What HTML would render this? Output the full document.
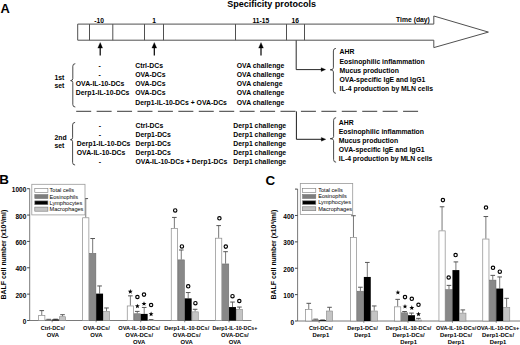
<!DOCTYPE html>
<html><head><meta charset="utf-8"><style>
html,body{margin:0;padding:0;background:#fff;}
body{width:520px;height:345px;overflow:hidden;}
svg{display:block;font-family:"Liberation Sans", sans-serif;}
</style></head><body>
<svg width="520" height="345" viewBox="0 0 520 345">
<rect width="520" height="345" fill="#fff"/>
<text x="0.5" y="12.9" font-size="13.2" font-weight="bold" text-anchor="start" fill="#000" textLength="9.3" lengthAdjust="spacingAndGlyphs">A</text>
<text x="227.2" y="6.6" font-size="8.3" font-weight="bold" text-anchor="start" fill="#000" textLength="88.8" lengthAdjust="spacingAndGlyphs">Specificity protocols</text>
<path d="M77.7,24.1 L433.8,24.1 L433.8,16.0 L488.4,32.1 L433.8,47.6 L433.8,40.2 L77.7,40.2 Z" stroke="#505050" stroke-width="1.0" fill="none"/>
<line x1="89.5" y1="24.1" x2="89.5" y2="40.2" stroke="#505050" stroke-width="1.0"/>
<line x1="112.8" y1="24.1" x2="112.8" y2="40.2" stroke="#505050" stroke-width="1.0"/>
<line x1="144.5" y1="24.1" x2="144.5" y2="40.2" stroke="#505050" stroke-width="1.0"/>
<line x1="163.5" y1="24.1" x2="163.5" y2="40.2" stroke="#505050" stroke-width="1.0"/>
<line x1="235.5" y1="24.1" x2="235.5" y2="40.2" stroke="#505050" stroke-width="1.0"/>
<line x1="286.5" y1="24.1" x2="286.5" y2="40.2" stroke="#505050" stroke-width="1.0"/>
<line x1="304.5" y1="24.1" x2="304.5" y2="40.2" stroke="#505050" stroke-width="1.0"/>
<text x="99.2" y="23.4" font-size="6.7" font-weight="bold" text-anchor="middle" fill="#000">-10</text>
<text x="154.2" y="23.4" font-size="6.7" font-weight="bold" text-anchor="middle" fill="#000">1</text>
<text x="260.8" y="23.4" font-size="6.7" font-weight="bold" text-anchor="middle" fill="#000">11-15</text>
<text x="295.2" y="23.4" font-size="6.7" font-weight="bold" text-anchor="middle" fill="#000">16</text>
<text x="396.1" y="21.8" font-size="6.7" font-weight="bold" text-anchor="start" fill="#000" textLength="33.7" lengthAdjust="spacingAndGlyphs">Time (day)</text>
<line x1="100.2" y1="45.5" x2="100.2" y2="55.6" stroke="#000" stroke-width="1.2"/>
<path d="M97.8,48.1 L100.2,42.5 L102.60000000000001,48.1 Z" stroke="#000" stroke-width="0.3" fill="#000"/>
<line x1="154.3" y1="45.5" x2="154.3" y2="55.6" stroke="#000" stroke-width="1.2"/>
<path d="M151.9,48.1 L154.3,42.5 L156.70000000000002,48.1 Z" stroke="#000" stroke-width="0.3" fill="#000"/>
<line x1="261.0" y1="45.5" x2="261.0" y2="55.6" stroke="#000" stroke-width="1.2"/>
<path d="M258.6,48.1 L261.0,42.5 L263.4,48.1 Z" stroke="#000" stroke-width="0.3" fill="#000"/>
<path d="M296.2,40.5 L296.2,69.6 L322,69.6" stroke="#111" stroke-width="0.9" fill="none"/>
<path d="M321.1,67.69999999999999 L325.6,69.6 L321.1,71.5 Z" stroke="#000" stroke-width="0.3" fill="#000"/>
<path d="M296.4,111.4 L296.4,139.3 L322,139.3" stroke="#111" stroke-width="0.95" fill="none"/>
<path d="M321.3,137.4 L325.8,139.3 L321.3,141.20000000000002 Z" stroke="#000" stroke-width="0.3" fill="#000"/>
<path d="M75.3,63.7 Q72.8,63.7 72.8,66.2 L72.8,78.6 Q72.8,80.6 70.6,80.6 Q72.8,80.6 72.8,82.6 L72.8,104.5 Q72.8,107 75.3,107" stroke="#2a2a2a" stroke-width="0.85" fill="none"/>
<path d="M75.1,122.4 Q72.6,122.4 72.6,124.9 L72.6,137.7 Q72.6,139.7 70.39999999999999,139.7 Q72.6,139.7 72.6,141.7 L72.6,162.5 Q72.6,165.0 75.1,165.0" stroke="#2a2a2a" stroke-width="0.85" fill="none"/>
<path d="M335.9,48.4 Q333.4,48.4 333.4,50.9 L333.4,67.8 Q333.4,69.8 330.2,69.8 Q333.4,69.8 333.4,71.8 L333.4,90.8 Q333.4,93.3 335.9,93.3" stroke="#2a2a2a" stroke-width="0.85" fill="none"/>
<path d="M336.1,117.7 Q333.6,117.7 333.6,120.2 L333.6,136.7 Q333.6,138.7 330.20000000000005,138.7 Q333.6,138.7 333.6,140.7 L333.6,159.7 Q333.6,162.2 336.1,162.2" stroke="#2a2a2a" stroke-width="0.85" fill="none"/>
<text x="54.5" y="79.8" font-size="6.85" font-weight="bold" text-anchor="start" fill="#000">1st</text>
<text x="54.5" y="88.1" font-size="6.85" font-weight="bold" text-anchor="start" fill="#000">set</text>
<text x="54.5" y="139.6" font-size="6.85" font-weight="bold" text-anchor="start" fill="#000">2nd</text>
<text x="54.5" y="147.8" font-size="6.85" font-weight="bold" text-anchor="start" fill="#000">set</text>
<text x="99.6" y="68.0" font-size="6.85" font-weight="bold" text-anchor="middle" fill="#000">-</text>
<text x="135.2" y="68.0" font-size="6.85" font-weight="bold" text-anchor="start" fill="#000">Ctrl-DCs</text>
<text x="236.8" y="68.0" font-size="6.85" font-weight="bold" text-anchor="start" fill="#000">OVA challenge</text>
<text x="99.6" y="77.0" font-size="6.85" font-weight="bold" text-anchor="middle" fill="#000">-</text>
<text x="135.2" y="77.0" font-size="6.85" font-weight="bold" text-anchor="start" fill="#000">OVA-DCs</text>
<text x="236.8" y="77.0" font-size="6.85" font-weight="bold" text-anchor="start" fill="#000">OVA challenge</text>
<text x="75.8" y="86.0" font-size="6.85" font-weight="bold" text-anchor="start" fill="#000">OVA-IL-10-DCs</text>
<text x="135.2" y="86.0" font-size="6.85" font-weight="bold" text-anchor="start" fill="#000">OVA-DCs</text>
<text x="236.8" y="86.0" font-size="6.85" font-weight="bold" text-anchor="start" fill="#000">OVA chalenge</text>
<text x="75.8" y="95.0" font-size="6.85" font-weight="bold" text-anchor="start" fill="#000">Derp1-IL-10-DCs</text>
<text x="135.2" y="95.0" font-size="6.85" font-weight="bold" text-anchor="start" fill="#000">OVA-DCs</text>
<text x="236.8" y="95.0" font-size="6.85" font-weight="bold" text-anchor="start" fill="#000">OVA challenge</text>
<text x="135.2" y="105.0" font-size="6.85" font-weight="bold" text-anchor="start" fill="#000">Derp1-IL-10-DCs + OVA-DCs</text>
<text x="236.8" y="105.0" font-size="6.85" font-weight="bold" text-anchor="start" fill="#000">OVA challenge</text>
<text x="100.0" y="128.0" font-size="6.85" font-weight="bold" text-anchor="middle" fill="#000">-</text>
<text x="135.5" y="128.0" font-size="6.85" font-weight="bold" text-anchor="start" fill="#000">Ctrl-DCs</text>
<text x="233.3" y="128.0" font-size="6.85" font-weight="bold" text-anchor="start" fill="#000">Derp1 challenge</text>
<text x="100.0" y="137.0" font-size="6.85" font-weight="bold" text-anchor="middle" fill="#000">-</text>
<text x="135.5" y="137.0" font-size="6.85" font-weight="bold" text-anchor="start" fill="#000">Derp1-DCs</text>
<text x="233.3" y="137.0" font-size="6.85" font-weight="bold" text-anchor="start" fill="#000">Derp1 challenge</text>
<text x="76.8" y="146.0" font-size="6.85" font-weight="bold" text-anchor="start" fill="#000">Derp1-IL-10-DCs</text>
<text x="135.5" y="146.0" font-size="6.85" font-weight="bold" text-anchor="start" fill="#000">Derp1-DCs</text>
<text x="233.3" y="146.0" font-size="6.85" font-weight="bold" text-anchor="start" fill="#000">Derp1 challenge</text>
<text x="76.8" y="155.0" font-size="6.85" font-weight="bold" text-anchor="start" fill="#000">OVA-IL-10-DCs</text>
<text x="135.5" y="155.0" font-size="6.85" font-weight="bold" text-anchor="start" fill="#000">Derp1-DCs</text>
<text x="233.3" y="155.0" font-size="6.85" font-weight="bold" text-anchor="start" fill="#000">Derp1 challenge</text>
<text x="100.0" y="164.0" font-size="6.85" font-weight="bold" text-anchor="middle" fill="#000">-</text>
<text x="135.5" y="164.0" font-size="6.85" font-weight="bold" text-anchor="start" fill="#000">OVA-IL-10-DCs + Derp1-DCs</text>
<text x="233.3" y="164.0" font-size="6.85" font-weight="bold" text-anchor="start" fill="#000">Derp1 challenge</text>
<text x="339.5" y="54.3" font-size="6.85" font-weight="bold" text-anchor="start" fill="#000">AHR</text>
<text x="339.5" y="63.699999999999996" font-size="6.85" font-weight="bold" text-anchor="start" fill="#000">Eosinophilic inflammation</text>
<text x="339.5" y="72.9" font-size="6.85" font-weight="bold" text-anchor="start" fill="#000">Mucus production</text>
<text x="339.5" y="82.10000000000001" font-size="6.85" font-weight="bold" text-anchor="start" fill="#000">OVA-specific IgE and IgG1</text>
<text x="339.5" y="90.9" font-size="6.85" font-weight="bold" text-anchor="start" fill="#000">IL-4 production by MLN cells</text>
<text x="338.8" y="125.0" font-size="6.85" font-weight="bold" text-anchor="start" fill="#000">AHR</text>
<text x="338.8" y="134.0" font-size="6.85" font-weight="bold" text-anchor="start" fill="#000">Eosinophilic inflammation</text>
<text x="338.8" y="143.0" font-size="6.85" font-weight="bold" text-anchor="start" fill="#000">Mucus production</text>
<text x="338.8" y="152.0" font-size="6.85" font-weight="bold" text-anchor="start" fill="#000">OVA-specific IgE and IgG1</text>
<text x="338.8" y="161.0" font-size="6.85" font-weight="bold" text-anchor="start" fill="#000">IL-4 production by MLN cells</text>
<line x1="76.2" y1="111.3" x2="418.2" y2="111.3" stroke="#3a3a3a" stroke-width="1.0" stroke-dasharray="15 5.43"/>
<line x1="29.7" y1="188.7" x2="29.7" y2="320.5" stroke="#7a7a7a" stroke-width="1.0"/>
<line x1="29.7" y1="320.5" x2="251.5" y2="320.5" stroke="#7a7a7a" stroke-width="1.0"/>
<line x1="27.099999999999998" y1="320.5" x2="29.7" y2="320.5" stroke="#333" stroke-width="0.9"/>
<text x="26.3" y="324.0" font-size="6.5" font-weight="bold" text-anchor="end" fill="#000">0</text>
<line x1="27.099999999999998" y1="294.14" x2="29.7" y2="294.14" stroke="#333" stroke-width="0.9"/>
<text x="26.3" y="297.64" font-size="6.5" font-weight="bold" text-anchor="end" fill="#000">200</text>
<line x1="27.099999999999998" y1="267.78" x2="29.7" y2="267.78" stroke="#333" stroke-width="0.9"/>
<text x="26.3" y="271.28" font-size="6.5" font-weight="bold" text-anchor="end" fill="#000">400</text>
<line x1="27.099999999999998" y1="241.42000000000002" x2="29.7" y2="241.42000000000002" stroke="#333" stroke-width="0.9"/>
<text x="26.3" y="244.92000000000002" font-size="6.5" font-weight="bold" text-anchor="end" fill="#000">600</text>
<line x1="27.099999999999998" y1="215.06" x2="29.7" y2="215.06" stroke="#333" stroke-width="0.9"/>
<text x="26.3" y="218.56" font-size="6.5" font-weight="bold" text-anchor="end" fill="#000">800</text>
<line x1="27.099999999999998" y1="188.7" x2="29.7" y2="188.7" stroke="#333" stroke-width="0.9"/>
<text x="26.3" y="192.2" font-size="6.5" font-weight="bold" text-anchor="end" fill="#000">1000</text>
<line x1="52.14" y1="320.5" x2="52.14" y2="322.3" stroke="#555" stroke-width="0.7"/>
<line x1="41.76" y1="310.615" x2="41.76" y2="315.228" stroke="#555" stroke-width="0.8"/>
<line x1="39.46" y1="310.615" x2="44.059999999999995" y2="310.615" stroke="#555" stroke-width="1.0"/>
<rect x="38.65" y="315.58" width="6.22" height="4.92" fill="#ffffff" stroke="#8a8a8a" stroke-width="0.7"/>
<line x1="48.68" y1="319.3138" x2="48.68" y2="319.7092" stroke="#555" stroke-width="0.8"/>
<line x1="46.38" y1="319.3138" x2="50.98" y2="319.3138" stroke="#555" stroke-width="1.0"/>
<rect x="45.47" y="319.96" width="6.42" height="0.54" fill="#888888" stroke="#666" stroke-width="0.5"/>
<line x1="55.6" y1="319.182" x2="55.6" y2="319.4456" stroke="#555" stroke-width="0.8"/>
<line x1="53.300000000000004" y1="319.182" x2="57.9" y2="319.182" stroke="#555" stroke-width="1.0"/>
<rect x="52.14" y="319.45" width="6.92" height="1.05" fill="#000000"/>
<line x1="62.519999999999996" y1="314.7008" x2="62.519999999999996" y2="316.4142" stroke="#555" stroke-width="0.8"/>
<line x1="60.22" y1="314.7008" x2="64.82" y2="314.7008" stroke="#555" stroke-width="1.0"/>
<rect x="59.36" y="316.71" width="6.32" height="3.79" fill="#c4c4c4" stroke="#8a8a8a" stroke-width="0.6"/>
<line x1="96.14" y1="320.5" x2="96.14" y2="322.3" stroke="#555" stroke-width="0.7"/>
<line x1="85.75999999999999" y1="198.58499999999998" x2="85.75999999999999" y2="217.4324" stroke="#555" stroke-width="0.8"/>
<line x1="83.46" y1="198.58499999999998" x2="88.05999999999999" y2="198.58499999999998" stroke="#555" stroke-width="1.0"/>
<rect x="82.65" y="217.78" width="6.22" height="102.72" fill="#ffffff" stroke="#8a8a8a" stroke-width="0.7"/>
<line x1="92.67999999999999" y1="238.5204" x2="92.67999999999999" y2="253.01839999999999" stroke="#555" stroke-width="0.8"/>
<line x1="90.38" y1="238.5204" x2="94.97999999999999" y2="238.5204" stroke="#555" stroke-width="1.0"/>
<rect x="89.47" y="253.27" width="6.42" height="67.23" fill="#888888" stroke="#666" stroke-width="0.5"/>
<line x1="99.6" y1="285.9684" x2="99.6" y2="293.6128" stroke="#555" stroke-width="0.8"/>
<line x1="97.3" y1="285.9684" x2="101.89999999999999" y2="285.9684" stroke="#555" stroke-width="1.0"/>
<rect x="96.14" y="293.61" width="6.92" height="26.89" fill="#000000"/>
<line x1="106.52" y1="307.979" x2="106.52" y2="311.0104" stroke="#555" stroke-width="0.8"/>
<line x1="104.22" y1="307.979" x2="108.82" y2="307.979" stroke="#555" stroke-width="1.0"/>
<rect x="103.36" y="311.31" width="6.32" height="9.19" fill="#c4c4c4" stroke="#8a8a8a" stroke-width="0.6"/>
<line x1="140.74" y1="320.5" x2="140.74" y2="322.3" stroke="#555" stroke-width="0.7"/>
<line x1="130.36" y1="295.8534" x2="130.36" y2="305.6066" stroke="#555" stroke-width="0.8"/>
<line x1="128.06" y1="295.8534" x2="132.66000000000003" y2="295.8534" stroke="#555" stroke-width="1.0"/>
<rect x="127.25" y="305.96" width="6.22" height="14.54" fill="#ffffff" stroke="#8a8a8a" stroke-width="0.7"/>
<line x1="137.28" y1="311.4058" x2="137.28" y2="313.5146" stroke="#555" stroke-width="0.8"/>
<line x1="134.98" y1="311.4058" x2="139.58" y2="311.4058" stroke="#555" stroke-width="1.0"/>
<rect x="134.07" y="313.76" width="6.42" height="6.74" fill="#888888" stroke="#666" stroke-width="0.5"/>
<line x1="144.20000000000002" y1="307.4518" x2="144.20000000000002" y2="313.91" stroke="#555" stroke-width="0.8"/>
<line x1="141.9" y1="307.4518" x2="146.50000000000003" y2="307.4518" stroke="#555" stroke-width="1.0"/>
<rect x="140.74" y="313.91" width="6.92" height="6.59" fill="#000000"/>
<line x1="151.12" y1="319.5774" x2="151.12" y2="319.841" stroke="#555" stroke-width="0.8"/>
<line x1="148.82" y1="319.5774" x2="153.42000000000002" y2="319.5774" stroke="#555" stroke-width="1.0"/>
<rect x="147.96" y="320.14" width="6.32" height="0.36" fill="#c4c4c4" stroke="#8a8a8a" stroke-width="0.6"/>
<line x1="184.74" y1="320.5" x2="184.74" y2="322.3" stroke="#555" stroke-width="0.7"/>
<line x1="174.36" y1="217.4324" x2="174.36" y2="228.24" stroke="#555" stroke-width="0.8"/>
<line x1="172.06" y1="217.4324" x2="176.66000000000003" y2="217.4324" stroke="#555" stroke-width="1.0"/>
<rect x="171.25" y="228.59" width="6.22" height="91.91" fill="#ffffff" stroke="#8a8a8a" stroke-width="0.7"/>
<line x1="181.28" y1="249.987" x2="181.28" y2="259.6084" stroke="#555" stroke-width="0.8"/>
<line x1="178.98" y1="249.987" x2="183.58" y2="249.987" stroke="#555" stroke-width="1.0"/>
<rect x="178.07" y="259.86" width="6.42" height="60.64" fill="#888888" stroke="#666" stroke-width="0.5"/>
<line x1="188.20000000000002" y1="292.5584" x2="188.20000000000002" y2="298.3576" stroke="#555" stroke-width="0.8"/>
<line x1="185.9" y1="292.5584" x2="190.50000000000003" y2="292.5584" stroke="#555" stroke-width="1.0"/>
<rect x="184.74" y="298.36" width="6.92" height="22.14" fill="#000000"/>
<line x1="195.12" y1="309.297" x2="195.12" y2="311.5376" stroke="#555" stroke-width="0.8"/>
<line x1="192.82" y1="309.297" x2="197.42000000000002" y2="309.297" stroke="#555" stroke-width="1.0"/>
<rect x="191.96" y="311.84" width="6.32" height="8.66" fill="#c4c4c4" stroke="#8a8a8a" stroke-width="0.6"/>
<line x1="229.04" y1="320.5" x2="229.04" y2="322.3" stroke="#555" stroke-width="0.7"/>
<line x1="218.66" y1="225.60399999999998" x2="218.66" y2="237.8614" stroke="#555" stroke-width="0.8"/>
<line x1="216.35999999999999" y1="225.60399999999998" x2="220.96" y2="225.60399999999998" stroke="#555" stroke-width="1.0"/>
<rect x="215.55" y="238.21" width="6.22" height="82.29" fill="#ffffff" stroke="#8a8a8a" stroke-width="0.7"/>
<line x1="225.57999999999998" y1="251.7004" x2="225.57999999999998" y2="263.6942" stroke="#555" stroke-width="0.8"/>
<line x1="223.27999999999997" y1="251.7004" x2="227.88" y2="251.7004" stroke="#555" stroke-width="1.0"/>
<rect x="222.37" y="263.94" width="6.42" height="56.56" fill="#888888" stroke="#666" stroke-width="0.5"/>
<line x1="232.5" y1="302.048" x2="232.5" y2="307.0564" stroke="#555" stroke-width="0.8"/>
<line x1="230.2" y1="302.048" x2="234.8" y2="302.048" stroke="#555" stroke-width="1.0"/>
<rect x="229.04" y="307.06" width="6.92" height="13.44" fill="#000000"/>
<line x1="239.42" y1="307.0564" x2="239.42" y2="309.03340000000003" stroke="#555" stroke-width="0.8"/>
<line x1="237.11999999999998" y1="307.0564" x2="241.72" y2="307.0564" stroke="#555" stroke-width="1.0"/>
<rect x="236.26" y="309.33" width="6.32" height="11.17" fill="#c4c4c4" stroke="#8a8a8a" stroke-width="0.6"/>
<polygon points="130.30,289.05 130.93,290.73 132.73,290.81 131.32,291.93 131.80,293.66 130.30,292.67 128.80,293.66 129.28,291.93 127.87,290.81 129.67,290.73" fill="#000"/>
<circle cx="137.40" cy="297.00" r="1.7" fill="none" stroke="#000" stroke-width="1.15"/>
<polygon points="137.40,303.65 138.03,305.33 139.83,305.41 138.42,306.53 138.90,308.26 137.40,307.27 135.90,308.26 136.38,306.53 134.97,305.41 136.77,305.33" fill="#000"/>
<circle cx="144.00" cy="294.60" r="1.7" fill="none" stroke="#000" stroke-width="1.15"/>
<polygon points="144.00,301.25 144.63,302.93 146.43,303.01 145.02,304.13 145.50,305.86 144.00,304.87 142.50,305.86 142.98,304.13 141.57,303.01 143.37,302.93" fill="#000"/>
<circle cx="151.10" cy="305.00" r="1.7" fill="none" stroke="#000" stroke-width="1.15"/>
<polygon points="151.10,311.55 151.73,313.23 153.53,313.31 152.12,314.43 152.60,316.16 151.10,315.17 149.60,316.16 150.08,314.43 148.67,313.31 150.47,313.23" fill="#000"/>
<circle cx="175.20" cy="210.40" r="1.7" fill="none" stroke="#000" stroke-width="1.15"/>
<circle cx="181.90" cy="246.40" r="1.7" fill="none" stroke="#000" stroke-width="1.15"/>
<circle cx="188.20" cy="286.30" r="1.7" fill="none" stroke="#000" stroke-width="1.15"/>
<circle cx="195.40" cy="303.20" r="1.7" fill="none" stroke="#000" stroke-width="1.15"/>
<circle cx="219.40" cy="218.30" r="1.7" fill="none" stroke="#000" stroke-width="1.15"/>
<circle cx="225.80" cy="246.60" r="1.7" fill="none" stroke="#000" stroke-width="1.15"/>
<circle cx="232.50" cy="296.20" r="1.7" fill="none" stroke="#000" stroke-width="1.15"/>
<circle cx="239.30" cy="301.00" r="1.7" fill="none" stroke="#000" stroke-width="1.15"/>
<text x="52.8" y="330.4" font-size="5.9" font-weight="bold" text-anchor="middle" fill="#000" textLength="24.0" lengthAdjust="spacingAndGlyphs">Ctrl-DCs/</text>
<text x="52.8" y="337.0" font-size="5.9" font-weight="bold" text-anchor="middle" fill="#000">OVA</text>
<text x="96.4" y="330.4" font-size="5.9" font-weight="bold" text-anchor="middle" fill="#000" textLength="26.8" lengthAdjust="spacingAndGlyphs">OVA-DCs/</text>
<text x="96.4" y="337.0" font-size="5.9" font-weight="bold" text-anchor="middle" fill="#000">OVA</text>
<text x="139.2" y="330.4" font-size="5.9" font-weight="bold" text-anchor="middle" fill="#000" textLength="41.8" lengthAdjust="spacingAndGlyphs">OVA-IL-10-DCs/</text>
<text x="139.2" y="337.0" font-size="5.9" font-weight="bold" text-anchor="middle" fill="#000">OVA-DCs/</text>
<text x="139.2" y="343.59999999999997" font-size="5.9" font-weight="bold" text-anchor="middle" fill="#000">OVA</text>
<text x="186.7" y="330.4" font-size="5.9" font-weight="bold" text-anchor="middle" fill="#000" textLength="45.0" lengthAdjust="spacingAndGlyphs">Derp1-IL-10-DCs/</text>
<text x="186.7" y="337.0" font-size="5.9" font-weight="bold" text-anchor="middle" fill="#000">OVA-DCs/</text>
<text x="186.7" y="343.59999999999997" font-size="5.9" font-weight="bold" text-anchor="middle" fill="#000">OVA</text>
<text x="234.9" y="330.4" font-size="5.9" font-weight="bold" text-anchor="middle" fill="#000" textLength="44.8" lengthAdjust="spacingAndGlyphs">Derp1-IL-10-DCs+</text>
<text x="234.9" y="337.0" font-size="5.9" font-weight="bold" text-anchor="middle" fill="#000">OVA-DCs/</text>
<text x="234.9" y="343.59999999999997" font-size="5.9" font-weight="bold" text-anchor="middle" fill="#000">OVA</text>
<text x="0" y="0" font-size="6.3" font-weight="bold" text-anchor="middle" fill="#000" transform="translate(5.7,254.6) rotate(-90)" textLength="89.6" lengthAdjust="spacingAndGlyphs">BALF cell number (x10<tspan font-size="4" dy="-2.2">4</tspan><tspan dy="2.2">/ml)</tspan></text>
<text x="-0.8" y="183.8" font-size="13.4" font-weight="bold" text-anchor="start" fill="#000">B</text>
<rect x="31.80" y="184.30" width="53.20" height="30.60" fill="#fff" stroke="#999" stroke-width="0.8"/>
<rect x="34.80" y="188.30" width="13.10" height="4.20" fill="#ffffff" stroke="#777" stroke-width="0.6"/>
<text x="49.5" y="192.4" font-size="6.2" font-weight="normal" text-anchor="start" fill="#000" textLength="24.59" lengthAdjust="spacingAndGlyphs">Total cells</text>
<rect x="34.80" y="194.60" width="13.10" height="4.00" fill="#7d7d7d" stroke="#777" stroke-width="0.6"/>
<text x="49.5" y="198.5" font-size="6.2" font-weight="normal" text-anchor="start" fill="#000" textLength="28.64" lengthAdjust="spacingAndGlyphs">Eosinophils</text>
<rect x="34.80" y="200.90" width="13.10" height="3.80" fill="#000000" stroke="#777" stroke-width="0.6"/>
<text x="49.5" y="204.6" font-size="6.2" font-weight="normal" text-anchor="start" fill="#000" textLength="32.78" lengthAdjust="spacingAndGlyphs">Lymphocytes</text>
<rect x="34.80" y="207.10" width="13.10" height="4.10" fill="#c4c4c4" stroke="#777" stroke-width="0.6"/>
<text x="49.5" y="211.1" font-size="6.2" font-weight="normal" text-anchor="start" fill="#000" textLength="33.93" lengthAdjust="spacingAndGlyphs">Macrophages</text>
<line x1="297.6" y1="189.10000000000002" x2="297.6" y2="321.0" stroke="#7a7a7a" stroke-width="1.0"/>
<line x1="297.6" y1="321.0" x2="520" y2="321.0" stroke="#7a7a7a" stroke-width="1.0"/>
<line x1="295.0" y1="321.0" x2="297.6" y2="321.0" stroke="#333" stroke-width="0.9"/>
<text x="294.20000000000005" y="324.5" font-size="6.5" font-weight="bold" text-anchor="end" fill="#000">0</text>
<line x1="295.0" y1="294.62" x2="297.6" y2="294.62" stroke="#333" stroke-width="0.9"/>
<text x="294.20000000000005" y="298.12" font-size="6.5" font-weight="bold" text-anchor="end" fill="#000">100</text>
<line x1="295.0" y1="268.24" x2="297.6" y2="268.24" stroke="#333" stroke-width="0.9"/>
<text x="294.20000000000005" y="271.74" font-size="6.5" font-weight="bold" text-anchor="end" fill="#000">200</text>
<line x1="295.0" y1="241.86" x2="297.6" y2="241.86" stroke="#333" stroke-width="0.9"/>
<text x="294.20000000000005" y="245.36" font-size="6.5" font-weight="bold" text-anchor="end" fill="#000">300</text>
<line x1="295.0" y1="215.48000000000002" x2="297.6" y2="215.48000000000002" stroke="#333" stroke-width="0.9"/>
<text x="294.20000000000005" y="218.98000000000002" font-size="6.5" font-weight="bold" text-anchor="end" fill="#000">400</text>
<line x1="295.0" y1="189.10000000000002" x2="297.6" y2="189.10000000000002" stroke="#333" stroke-width="0.9"/>
<line x1="319.14" y1="321.0" x2="319.14" y2="322.8" stroke="#555" stroke-width="0.7"/>
<line x1="308.76" y1="303.3254" x2="308.76" y2="309.129" stroke="#555" stroke-width="0.8"/>
<line x1="306.46" y1="303.3254" x2="311.06" y2="303.3254" stroke="#555" stroke-width="1.0"/>
<rect x="305.65" y="309.48" width="6.22" height="11.52" fill="#ffffff" stroke="#8a8a8a" stroke-width="0.7"/>
<line x1="315.68" y1="319.1534" x2="315.68" y2="319.681" stroke="#555" stroke-width="0.8"/>
<line x1="313.38" y1="319.1534" x2="317.98" y2="319.1534" stroke="#555" stroke-width="1.0"/>
<rect x="312.47" y="319.93" width="6.42" height="1.07" fill="#888888" stroke="#666" stroke-width="0.5"/>
<line x1="322.59999999999997" y1="319.9448" x2="322.59999999999997" y2="320.2086" stroke="#555" stroke-width="0.8"/>
<line x1="320.29999999999995" y1="319.9448" x2="324.9" y2="319.9448" stroke="#555" stroke-width="1.0"/>
<rect x="319.14" y="320.21" width="6.92" height="0.79" fill="#000000"/>
<line x1="329.52" y1="307.2824" x2="329.52" y2="310.7118" stroke="#555" stroke-width="0.8"/>
<line x1="327.21999999999997" y1="307.2824" x2="331.82" y2="307.2824" stroke="#555" stroke-width="1.0"/>
<rect x="326.36" y="311.01" width="6.32" height="9.99" fill="#c4c4c4" stroke="#8a8a8a" stroke-width="0.6"/>
<line x1="363.84" y1="321.0" x2="363.84" y2="322.8" stroke="#555" stroke-width="0.7"/>
<line x1="353.46" y1="215.74380000000002" x2="353.46" y2="237.1116" stroke="#555" stroke-width="0.8"/>
<line x1="351.15999999999997" y1="215.74380000000002" x2="355.76" y2="215.74380000000002" stroke="#555" stroke-width="1.0"/>
<rect x="350.35" y="237.46" width="6.22" height="83.54" fill="#ffffff" stroke="#8a8a8a" stroke-width="0.7"/>
<line x1="360.38" y1="287.2336" x2="360.38" y2="290.9268" stroke="#555" stroke-width="0.8"/>
<line x1="358.08" y1="287.2336" x2="362.68" y2="287.2336" stroke="#555" stroke-width="1.0"/>
<rect x="357.17" y="291.18" width="6.42" height="29.82" fill="#888888" stroke="#666" stroke-width="0.5"/>
<line x1="367.29999999999995" y1="262.4364" x2="367.29999999999995" y2="276.9454" stroke="#555" stroke-width="0.8"/>
<line x1="364.99999999999994" y1="262.4364" x2="369.59999999999997" y2="262.4364" stroke="#555" stroke-width="1.0"/>
<rect x="363.84" y="276.95" width="6.92" height="44.05" fill="#000000"/>
<line x1="374.21999999999997" y1="305.9634" x2="374.21999999999997" y2="310.7118" stroke="#555" stroke-width="0.8"/>
<line x1="371.91999999999996" y1="305.9634" x2="376.52" y2="305.9634" stroke="#555" stroke-width="1.0"/>
<rect x="371.06" y="311.01" width="6.32" height="9.99" fill="#c4c4c4" stroke="#8a8a8a" stroke-width="0.6"/>
<line x1="408.03999999999996" y1="321.0" x2="408.03999999999996" y2="322.8" stroke="#555" stroke-width="0.7"/>
<line x1="397.65999999999997" y1="299.3684" x2="397.65999999999997" y2="306.491" stroke="#555" stroke-width="0.8"/>
<line x1="395.35999999999996" y1="299.3684" x2="399.96" y2="299.3684" stroke="#555" stroke-width="1.0"/>
<rect x="394.55" y="306.84" width="6.22" height="14.16" fill="#ffffff" stroke="#8a8a8a" stroke-width="0.7"/>
<line x1="404.58" y1="311.5032" x2="404.58" y2="312.5584" stroke="#555" stroke-width="0.8"/>
<line x1="402.28" y1="311.5032" x2="406.88" y2="311.5032" stroke="#555" stroke-width="1.0"/>
<rect x="401.37" y="312.81" width="6.42" height="8.19" fill="#888888" stroke="#666" stroke-width="0.5"/>
<line x1="411.49999999999994" y1="313.086" x2="411.49999999999994" y2="315.1964" stroke="#555" stroke-width="0.8"/>
<line x1="409.19999999999993" y1="313.086" x2="413.79999999999995" y2="313.086" stroke="#555" stroke-width="1.0"/>
<rect x="408.04" y="315.20" width="6.92" height="5.80" fill="#000000"/>
<line x1="418.41999999999996" y1="318.362" x2="418.41999999999996" y2="319.681" stroke="#555" stroke-width="0.8"/>
<line x1="416.11999999999995" y1="318.362" x2="420.71999999999997" y2="318.362" stroke="#555" stroke-width="1.0"/>
<rect x="415.26" y="319.98" width="6.32" height="1.02" fill="#c4c4c4" stroke="#8a8a8a" stroke-width="0.6"/>
<line x1="452.44" y1="321.0" x2="452.44" y2="322.8" stroke="#555" stroke-width="0.7"/>
<line x1="442.06" y1="206.77460000000002" x2="442.06" y2="230.5166" stroke="#555" stroke-width="0.8"/>
<line x1="439.76" y1="206.77460000000002" x2="444.36" y2="206.77460000000002" stroke="#555" stroke-width="1.0"/>
<rect x="438.95" y="230.87" width="6.22" height="90.13" fill="#ffffff" stroke="#8a8a8a" stroke-width="0.7"/>
<line x1="448.98" y1="285.387" x2="448.98" y2="289.344" stroke="#555" stroke-width="0.8"/>
<line x1="446.68" y1="285.387" x2="451.28000000000003" y2="285.387" stroke="#555" stroke-width="1.0"/>
<rect x="445.77" y="289.59" width="6.42" height="31.41" fill="#888888" stroke="#666" stroke-width="0.5"/>
<line x1="455.9" y1="261.9088" x2="455.9" y2="270.0866" stroke="#555" stroke-width="0.8"/>
<line x1="453.59999999999997" y1="261.9088" x2="458.2" y2="261.9088" stroke="#555" stroke-width="1.0"/>
<rect x="452.44" y="270.09" width="6.92" height="50.91" fill="#000000"/>
<line x1="462.82" y1="309.9204" x2="462.82" y2="312.8222" stroke="#555" stroke-width="0.8"/>
<line x1="460.52" y1="309.9204" x2="465.12" y2="309.9204" stroke="#555" stroke-width="1.0"/>
<rect x="459.66" y="313.12" width="6.32" height="7.88" fill="#c4c4c4" stroke="#8a8a8a" stroke-width="0.6"/>
<line x1="496.23999999999995" y1="321.0" x2="496.23999999999995" y2="322.8" stroke="#555" stroke-width="0.7"/>
<line x1="485.85999999999996" y1="216.5352" x2="485.85999999999996" y2="238.6944" stroke="#555" stroke-width="0.8"/>
<line x1="483.55999999999995" y1="216.5352" x2="488.15999999999997" y2="216.5352" stroke="#555" stroke-width="1.0"/>
<rect x="482.75" y="239.04" width="6.22" height="81.96" fill="#ffffff" stroke="#8a8a8a" stroke-width="0.7"/>
<line x1="492.78" y1="275.3626" x2="492.78" y2="279.8472" stroke="#555" stroke-width="0.8"/>
<line x1="490.47999999999996" y1="275.3626" x2="495.08" y2="275.3626" stroke="#555" stroke-width="1.0"/>
<rect x="489.57" y="280.10" width="6.42" height="40.90" fill="#888888" stroke="#666" stroke-width="0.5"/>
<line x1="499.69999999999993" y1="276.9454" x2="499.69999999999993" y2="288.5526" stroke="#555" stroke-width="0.8"/>
<line x1="497.3999999999999" y1="276.9454" x2="501.99999999999994" y2="276.9454" stroke="#555" stroke-width="1.0"/>
<rect x="496.24" y="288.55" width="6.92" height="32.45" fill="#000000"/>
<line x1="506.61999999999995" y1="298.3132" x2="506.61999999999995" y2="307.0186" stroke="#555" stroke-width="0.8"/>
<line x1="504.31999999999994" y1="298.3132" x2="508.91999999999996" y2="298.3132" stroke="#555" stroke-width="1.0"/>
<rect x="503.46" y="307.32" width="6.32" height="13.68" fill="#c4c4c4" stroke="#8a8a8a" stroke-width="0.6"/>
<polygon points="397.90,289.95 398.53,291.63 400.33,291.71 398.92,292.83 399.40,294.56 397.90,293.57 396.40,294.56 396.88,292.83 395.47,291.71 397.27,291.63" fill="#000"/>
<circle cx="405.00" cy="297.10" r="1.7" fill="none" stroke="#000" stroke-width="1.15"/>
<polygon points="405.00,303.95 405.63,305.63 407.43,305.71 406.02,306.83 406.50,308.56 405.00,307.57 403.50,308.56 403.98,306.83 402.57,305.71 404.37,305.63" fill="#000"/>
<circle cx="411.80" cy="298.80" r="1.7" fill="none" stroke="#000" stroke-width="1.15"/>
<polygon points="411.80,305.35 412.43,307.03 414.23,307.11 412.82,308.23 413.30,309.96 411.80,308.97 410.30,309.96 410.78,308.23 409.37,307.11 411.17,307.03" fill="#000"/>
<circle cx="418.50" cy="304.80" r="1.7" fill="none" stroke="#000" stroke-width="1.15"/>
<polygon points="418.50,311.65 419.13,313.33 420.93,313.41 419.52,314.53 420.00,316.26 418.50,315.27 417.00,316.26 417.48,314.53 416.07,313.41 417.87,313.33" fill="#000"/>
<circle cx="442.90" cy="200.10" r="1.7" fill="none" stroke="#000" stroke-width="1.15"/>
<circle cx="448.70" cy="277.50" r="1.7" fill="none" stroke="#000" stroke-width="1.15"/>
<circle cx="455.60" cy="255.00" r="1.7" fill="none" stroke="#000" stroke-width="1.15"/>
<circle cx="486.00" cy="207.50" r="1.7" fill="none" stroke="#000" stroke-width="1.15"/>
<circle cx="493.00" cy="267.80" r="1.7" fill="none" stroke="#000" stroke-width="1.15"/>
<circle cx="499.80" cy="271.70" r="1.7" fill="none" stroke="#000" stroke-width="1.15"/>
<text x="320.9" y="330.4" font-size="5.9" font-weight="bold" text-anchor="middle" fill="#000" textLength="24.0" lengthAdjust="spacingAndGlyphs">Ctrl-DCs/</text>
<text x="320.9" y="337.0" font-size="5.9" font-weight="bold" text-anchor="middle" fill="#000">Derp1</text>
<text x="362.5" y="330.4" font-size="5.9" font-weight="bold" text-anchor="middle" fill="#000" textLength="30.5" lengthAdjust="spacingAndGlyphs">Derp1-DCs/</text>
<text x="362.5" y="337.0" font-size="5.9" font-weight="bold" text-anchor="middle" fill="#000">Derp1</text>
<text x="408.6" y="330.4" font-size="5.9" font-weight="bold" text-anchor="middle" fill="#000" textLength="45.6" lengthAdjust="spacingAndGlyphs">Derp1-IL-10-DCs/</text>
<text x="408.6" y="337.0" font-size="5.9" font-weight="bold" text-anchor="middle" fill="#000">Derp1-DCs/</text>
<text x="408.6" y="343.59999999999997" font-size="5.9" font-weight="bold" text-anchor="middle" fill="#000">Derp1</text>
<text x="456.1" y="330.4" font-size="5.9" font-weight="bold" text-anchor="middle" fill="#000" textLength="40.4" lengthAdjust="spacingAndGlyphs">OVA-IL-10-DCs/</text>
<text x="456.1" y="337.0" font-size="5.9" font-weight="bold" text-anchor="middle" fill="#000">Derp1-DCs/</text>
<text x="456.1" y="343.59999999999997" font-size="5.9" font-weight="bold" text-anchor="middle" fill="#000">Derp1</text>
<text x="498.0" y="330.4" font-size="5.9" font-weight="bold" text-anchor="middle" fill="#000" textLength="42.6" lengthAdjust="spacingAndGlyphs">OVA-IL-10-DCs+</text>
<text x="498.0" y="337.0" font-size="5.9" font-weight="bold" text-anchor="middle" fill="#000">Derp1-DCs/</text>
<text x="498.0" y="343.59999999999997" font-size="5.9" font-weight="bold" text-anchor="middle" fill="#000">Derp1</text>
<text x="0" y="0" font-size="6.3" font-weight="bold" text-anchor="middle" fill="#000" transform="translate(276.2,254.6) rotate(-90)" textLength="89.6" lengthAdjust="spacingAndGlyphs">BALF cell number (x10<tspan font-size="4" dy="-2.2">4</tspan><tspan dy="2.2">/ml)</tspan></text>
<text x="265.4" y="184.6" font-size="13.4" font-weight="bold" text-anchor="start" fill="#000">C</text>
<rect x="300.30" y="183.40" width="52.40" height="31.10" fill="#fff" stroke="#999" stroke-width="0.8"/>
<rect x="302.60" y="188.50" width="13.20" height="3.80" fill="#ffffff" stroke="#777" stroke-width="0.6"/>
<text x="318.2" y="192.20000000000002" font-size="6.2" font-weight="normal" text-anchor="start" fill="#000" textLength="24.59" lengthAdjust="spacingAndGlyphs">Total cells</text>
<rect x="302.60" y="194.50" width="13.20" height="4.00" fill="#7d7d7d" stroke="#777" stroke-width="0.6"/>
<text x="318.2" y="198.4" font-size="6.2" font-weight="normal" text-anchor="start" fill="#000" textLength="28.64" lengthAdjust="spacingAndGlyphs">Eosinophils</text>
<rect x="302.60" y="200.80" width="13.20" height="3.60" fill="#000000" stroke="#777" stroke-width="0.6"/>
<text x="318.2" y="204.3" font-size="6.2" font-weight="normal" text-anchor="start" fill="#000" textLength="32.78" lengthAdjust="spacingAndGlyphs">Lymphocytes</text>
<rect x="302.60" y="206.80" width="13.20" height="3.90" fill="#c4c4c4" stroke="#777" stroke-width="0.6"/>
<text x="318.2" y="210.6" font-size="6.2" font-weight="normal" text-anchor="start" fill="#000" textLength="33.93" lengthAdjust="spacingAndGlyphs">Macrophages</text>
</svg>
</body></html>
